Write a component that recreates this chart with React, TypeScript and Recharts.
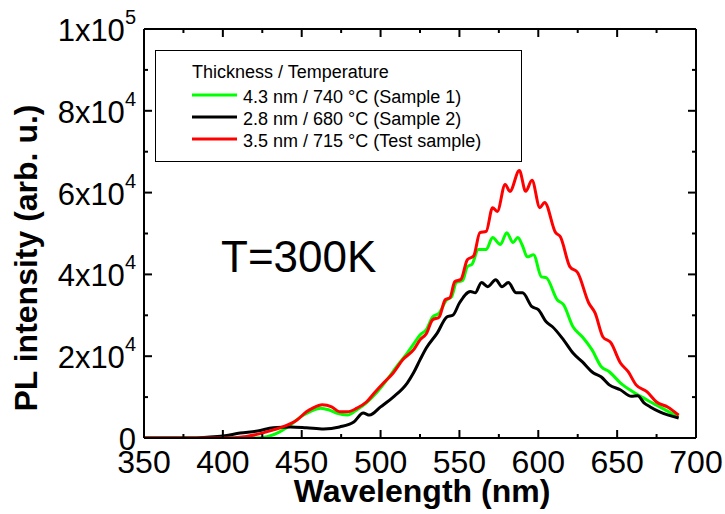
import React from 'react';
import { LineChart, Line, XAxis, YAxis, Label, Legend } from 'recharts';

const FONT = '"Liberation Sans", Arial, Helvetica, sans-serif';

// Wavelength (nm) / intensity (arb. u.)
const greenWl = [350, 400, 420, 428, 436, 443, 449, 455, 462, 467, 472, 479, 485, 491, 498, 504, 510, 517, 521, 525, 529, 533, 537, 542, 545, 548, 552, 555, 558, 562, 567, 571, 576, 580, 584, 587, 590, 593, 597, 602, 605, 612, 616, 622, 628, 634, 640, 645, 652, 660, 669, 677, 689];
const greenI = [0, 0, 0, 300, 1500, 3200, 5100, 6400, 7300, 6900, 6100, 5600, 6900, 8600, 11300, 14200, 17400, 20800, 23000, 25200, 26500, 29600, 30500, 33800, 34500, 38000, 38500, 41900, 42500, 46100, 46100, 49000, 47300, 50200, 47800, 49000, 47000, 44300, 44800, 39400, 39200, 33800, 32600, 27200, 24700, 21600, 17400, 16200, 13500, 11300, 9300, 7600, 5100];

const blackWl = [350, 380, 390, 400, 411, 422, 432, 443, 453, 464, 474, 483, 489, 493, 500, 508, 517, 521, 525, 529, 536, 542, 546, 550, 557, 560, 564, 568, 573, 577, 581, 586, 590, 596, 600, 605, 609, 616, 622, 628, 635, 640, 645, 652, 659, 663, 667, 671, 677, 689];
const blackI = [0, 0, 200, 500, 1200, 1700, 2500, 2700, 2500, 2200, 2700, 3900, 6100, 5600, 7600, 10000, 13500, 16000, 19100, 22000, 25700, 29600, 30100, 33000, 35800, 35500, 38000, 37000, 38700, 37000, 38000, 35500, 35500, 32100, 31400, 28400, 27200, 24000, 20800, 18600, 15900, 14900, 13000, 11800, 10200, 10300, 8600, 7600, 6400, 4900];

const redWl = [350, 400, 415, 425, 432, 438, 447, 453, 457, 463, 469, 474, 479, 485, 491, 496, 502, 508, 514, 521, 525, 529, 533, 537, 541, 544, 547, 551, 555, 559, 563, 567, 571, 574, 579, 582, 588, 592, 596, 601, 604, 611, 614, 620, 625, 632, 636, 641, 646, 652, 657, 662, 669, 675, 682, 689];
const redI = [0, 0, 400, 1200, 2000, 2700, 4400, 6400, 7300, 8100, 7600, 6400, 6400, 7300, 8800, 11000, 13500, 15900, 19100, 21600, 24000, 25500, 28900, 29500, 33800, 34300, 38200, 38800, 43600, 44500, 50200, 50500, 56300, 55400, 62000, 60300, 65400, 60300, 63000, 56300, 57600, 50200, 49200, 41900, 40400, 33000, 30600, 24700, 23300, 18400, 16200, 13000, 11300, 8800, 7600, 5600];

const xTicks = [350, 375, 400, 425, 450, 475, 500, 525, 550, 575, 600, 625, 650, 675, 700];
const yTicks = [0, 10000, 20000, 30000, 40000, 50000, 60000, 70000, 80000, 90000, 100000];

const legendTitle = 'Thickness / Temperature';
const seriesNames = ['4.3 nm / 740 °C (Sample 1)', '2.8 nm / 680 °C (Sample 2)', '3.5 nm / 715 °C (Test sample)'];
const seriesColors = ['#00ff00', '#000000', '#ff0000'];

const toData = (wl: number[], vals: number[]) => wl.map((w, i) => ({ wl: w, i: vals[i] }));
const greenData = toData(greenWl, greenI);
const blackData = toData(blackWl, blackI);
const redData = toData(redWl, redI);

const isMajorX = (v: number) => v % 50 === 0;
const isMajorY = (v: number) => v % 20000 === 0;

const XTickBottom = (props: any) => {
  const { x, y, payload } = props;
  const v = payload.value;
  const major = isMajorX(v);
  return (
    <g>
      <line x1={x} y1={y} x2={x} y2={y - (major ? 8 : 4)} stroke="#000" strokeWidth={2} />
      {major && (
        <text x={x} y={y + 35} textAnchor="middle" fontSize={32} fontFamily={FONT} fill="#000">
          {v}
        </text>
      )}
    </g>
  );
};

const XTickTop = (props: any) => {
  const { x, y, payload } = props;
  const major = isMajorX(payload.value);
  return <line x1={x} y1={y} x2={x} y2={y + (major ? 8 : 4)} stroke="#000" strokeWidth={2} />;
};

const YTickLeft = (props: any) => {
  const { x, y, payload } = props;
  const v = payload.value;
  const major = isMajorY(v);
  let label: React.ReactNode = null;
  if (major) {
    if (v === 0) {
      label = (
        <text x={136} y={y + 12} textAnchor="end" fontSize={31} fontFamily={FONT} fill="#000">
          0
        </text>
      );
    } else {
      const exp = Math.floor(Math.log10(v) + 1e-9);
      const mant = Math.round(v / Math.pow(10, exp));
      label = (
        <text x={136} y={y + 12} textAnchor="end" fontSize={31} fontFamily={FONT} fill="#000">
          <tspan>{`${mant}x10`}</tspan>
          <tspan dy={-17} fontSize={20}>{exp}</tspan>
        </text>
      );
    }
  }
  return (
    <g>
      <line x1={x} y1={y} x2={x + (major ? 8 : 4)} y2={y} stroke="#000" strokeWidth={2} />
      {label}
    </g>
  );
};

const YTickRight = (props: any) => {
  const { x, y, payload } = props;
  const major = isMajorY(payload.value);
  return <line x1={x} y1={y} x2={x - (major ? 8 : 4)} y2={y} stroke="#000" strokeWidth={2} />;
};

const LegendBox = () => (
  <svg width={367} height={112} style={{ display: 'block' }}>
    <rect x={0.5} y={0.5} width={366} height={111} fill="#fff" stroke="#000" strokeWidth={1} />
    <text x={37} y={28} fontSize={18} fontFamily={FONT} fill="#000">
      {legendTitle}
    </text>
    {seriesNames.map((name, idx) => (
      <g key={name}>
        <line x1={37} x2={82} y1={45 + idx * 22} y2={45 + idx * 22} stroke={seriesColors[idx]} strokeWidth={3} />
        <text x={88} y={53 + idx * 22} fontSize={18} fontFamily={FONT} fill="#000">
          {name}
        </text>
      </g>
    ))}
  </svg>
);

export default function App() {
  return (
    <div style={{ position: 'absolute', left: 0, top: 0, width: 725, height: 514, background: '#fff' }}>
      <LineChart width={725} height={514} margin={{ top: 28, right: 28, bottom: 0, left: 0 }}>
        <XAxis
          xAxisId={0}
          dataKey="wl"
          type="number"
          domain={[350, 700]}
          ticks={xTicks}
          interval={0}
          allowDataOverflow
          height={76}
          tickSize={0}
          tickMargin={0}
          tickLine={false}
          axisLine={{ stroke: '#000', strokeWidth: 2 }}
          tick={<XTickBottom />}
        >
          <Label
            content={() => (
              <text x={422} y={502} textAnchor="middle" fontSize={32} fontWeight="bold" fontFamily={FONT} fill="#000">
                Wavelength (nm)
              </text>
            )}
          />
        </XAxis>
        <XAxis
          xAxisId="top"
          orientation="top"
          dataKey="wl"
          type="number"
          domain={[350, 700]}
          ticks={xTicks}
          interval={0}
          allowDataOverflow
          height={1}
          tickSize={0}
          tickMargin={0}
          tickLine={false}
          axisLine={{ stroke: '#000', strokeWidth: 2 }}
          tick={<XTickTop />}
        />
        <YAxis
          yAxisId={0}
          type="number"
          domain={[0, 100000]}
          ticks={yTicks}
          interval={0}
          allowDataOverflow
          width={144}
          tickSize={0}
          tickMargin={0}
          tickLine={false}
          axisLine={{ stroke: '#000', strokeWidth: 2 }}
          tick={<YTickLeft />}
        >
          <Label
            content={() => (
              <text
                transform="translate(37,258) rotate(-90)"
                x={0}
                y={0}
                textAnchor="middle"
                fontSize={32}
                fontWeight="bold"
                fontFamily={FONT}
                fill="#000"
              >
                PL intensity (arb. u.)
              </text>
            )}
          />
        </YAxis>
        <YAxis
          yAxisId="right"
          orientation="right"
          type="number"
          domain={[0, 100000]}
          ticks={yTicks}
          interval={0}
          allowDataOverflow
          width={1}
          tickSize={0}
          tickMargin={0}
          tickLine={false}
          axisLine={{ stroke: '#000', strokeWidth: 2 }}
          tick={<YTickRight />}
        />
        <Legend
          layout="horizontal"
          verticalAlign="middle"
          align="center"
          content={() => <LegendBox />}
          wrapperStyle={{ position: 'absolute', left: 155, top: 50, width: 367, height: 112 }}
        />
        <Line type="monotone" data={greenData} dataKey="i" name={seriesNames[0]} stroke={seriesColors[0]} strokeWidth={3} dot={false} isAnimationActive={false} />
        <Line type="monotone" data={blackData} dataKey="i" name={seriesNames[1]} stroke={seriesColors[1]} strokeWidth={3} dot={false} isAnimationActive={false} />
        <Line type="monotone" data={redData} dataKey="i" name={seriesNames[2]} stroke={seriesColors[2]} strokeWidth={3} dot={false} isAnimationActive={false} />
      </LineChart>
      <div
        style={{
          position: 'absolute',
          left: 221,
          top: 235,
          fontFamily: FONT,
          fontSize: 44,
          lineHeight: '44px',
          color: '#000',
          whiteSpace: 'nowrap',
        }}
      >
        T=300K
      </div>
    </div>
  );
}
